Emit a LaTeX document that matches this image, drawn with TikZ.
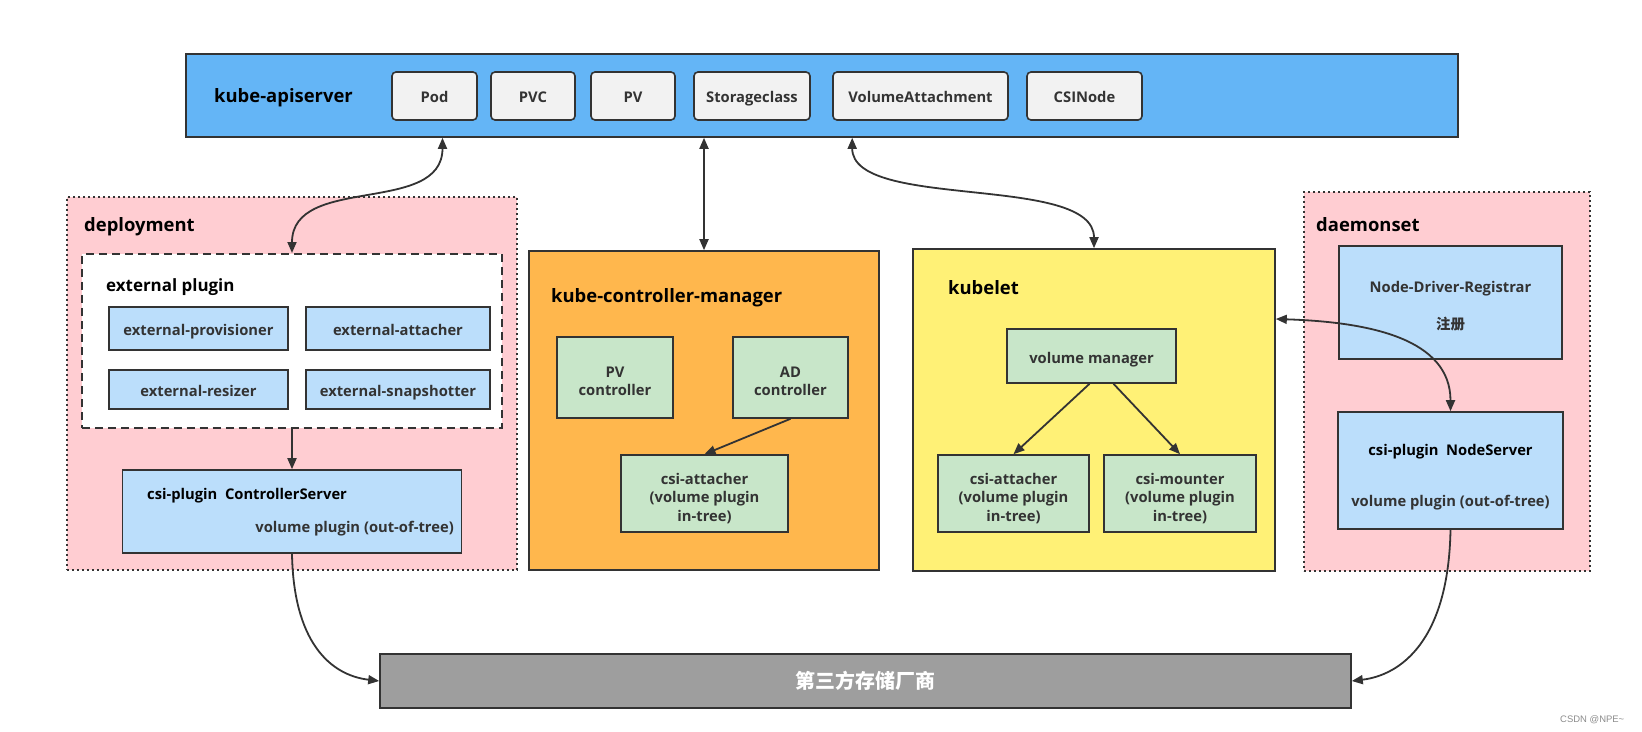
\documentclass[tikz,border=0pt]{standalone}
\usepackage{fontspec}
\setmainfont{Open Sans}
\newfontfamily\cjk{Noto Sans CJK SC}
\newfontfamily\wmfont{Liberation Sans}
\usetikzlibrary{arrows.meta,calc}
\definecolor{apiblue}{HTML}{64B5F6}
\definecolor{resgray}{HTML}{F2F2F2}
\definecolor{pinkbg}{HTML}{FFCDD2}
\definecolor{lblue}{HTML}{BBDEFB}
\definecolor{orangebg}{HTML}{FFB74D}
\definecolor{yellowbg}{HTML}{FFF176}
\definecolor{greenbg}{HTML}{C8E6C9}
\definecolor{vendorgray}{HTML}{9E9E9E}
\definecolor{lc}{HTML}{333333}
\definecolor{txt}{HTML}{333333}
\begin{document}
\begin{tikzpicture}[x=1bp,y=-1bp,
  boxbase/.style={draw=lc, line width=1.6bp, inner sep=0pt, align=center,
    font=\fontsize{14.8}{18.5}\selectfont\bfseries, text=txt},
  oneline/.style={text height=14bp, text depth=0bp},
  sz/.style n args={2}{minimum width=#1bp, minimum height=#2bp},
  resbox/.style={boxbase, oneline, fill=resgray, rounded corners=4bp},
  bluebox/.style={boxbase, oneline, fill=lblue},
  greenbox/.style={boxbase, fill=greenbg},
  groupbox/.style={draw=lc, line width=2bp, dash pattern=on 2bp off 3bp, fill=pinkbg, inner sep=0pt},
  title/.style={anchor=base west, inner sep=0pt, font=\fontsize{18.5}{22}\selectfont\bfseries, text=black},
  plain/.style={inner sep=0pt, align=center, font=\fontsize{14.8}{18.5}\selectfont\bfseries, text=txt},
  conn/.style={draw=lc, line width=1.8bp, -{Triangle[length=11bp,width=9bp]}},
  biconn/.style={draw=lc, line width=1.8bp, {Triangle[length=11bp,width=9bp]}-{Triangle[length=11bp,width=9bp]}}
]
\useasboundingbox (0,0) rectangle (1642,732);

% kube-apiserver
\node[boxbase, fill=apiblue, sz={1272}{83}] (api) at (822,95.5) {};
\node[title] (apilbl) at (214,103) {kube-apiserver};
\node[resbox, sz={85}{48}] (pod) at (434.5,96) {Pod};
\node[resbox, sz={84}{48}] (pvc) at (533,96) {PVC};
\node[resbox, sz={84}{48}] (pv) at (633,96) {PV};
\node[resbox, sz={116}{48}] (sc) at (752,96) {Storageclass};
\node[resbox, sz={175}{48}] (va) at (920.5,96) {VolumeAttachment};
\node[resbox, sz={115}{48}] (csinode) at (1084.5,96) {CSINode};

% deployment
\node[groupbox, sz={450}{373}] (deploy) at (292,383.5) {};
\node[title] (deploylbl) at (84,231) {deployment};
\node[draw=lc, line width=2bp, dash pattern=on 8bp off 5bp, fill=white, inner sep=0pt, sz={419}{174}] (extp) at (292,341) {};
\node[title, font=\fontsize{17}{20}\selectfont\bfseries] (extplbl) at (106,291) {external plugin};
\node[bluebox, sz={179}{43}] (prov) at (198.5,328.5) {external-provisioner};
\node[bluebox, sz={184}{43}] (att) at (398,328.5) {external-attacher};
\node[bluebox, sz={179}{39}] (res) at (198.5,389.5) {external-resizer};
\node[bluebox, sz={184}{39}] (snap) at (398,389.5) {external-snapshotter};
\node[bluebox, sz={339}{83}] (csc) at (292,511.5) {};
\node[plain, anchor=west, text=black] (csct) at (147,496) {csi-plugin\ \ ControllerServer};
\node[plain, anchor=east] (cscv) at (454,529) {volume plugin (out-of-tree)};

% kube-controller-manager
\node[boxbase, fill=orangebg, sz={350}{319}] (kcm) at (704,410.5) {};
\node[title] (kcmlbl) at (551,302) {kube-controller-manager};
\node[greenbox, sz={116}{81}] (pvctl) at (615,377.5) {};
\node[plain] (pvctlt) at ([yshift=-4bp]pvctl.center) {PV\\controller};
\node[greenbox, sz={115}{81}] (adctl) at (790.5,377.5) {};
\node[plain] (adctlt) at ([yshift=-4bp]adctl.center) {AD\\controller};
\node[greenbox, sz={167}{77}] (cat1) at (704.5,493.5) {};
\node[plain] (cat1t) at ([yshift=-5bp]cat1.center) {csi-attacher\\(volume plugin\\in-tree)};

% kubelet
\node[boxbase, fill=yellowbg, sz={362}{322}] (kubelet) at (1094,410) {};
\node[title] (kubeletlbl) at (948,294) {kubelet};
\node[greenbox, oneline, sz={169}{54}] (vm) at (1091.5,356) {volume manager};
\node[greenbox, sz={151}{77}] (cat2) at (1013.5,493.5) {};
\node[plain] (cat2t) at ([yshift=-5bp]cat2.center) {csi-attacher\\(volume plugin\\in-tree)};
\node[greenbox, sz={152}{77}] (cmt) at (1180,493.5) {};
\node[plain] (cmtt) at ([yshift=-5bp]cmt.center) {csi-mounter\\(volume plugin\\in-tree)};

% daemonset
\node[groupbox, sz={286}{379}] (ds) at (1447,381.5) {};
\node[title] (dslbl) at (1316,231) {daemonset};
\node[bluebox, sz={223}{113}] (ndr) at (1450.5,302.5) {};
\node[plain] (ndrt) at (1450.5,289) {Node-Driver-Registrar};
\node[plain, font=\fontsize{14.5}{18}\selectfont\cjk\bfseries] (ndrz) at (1450.5,324) {注册};
\node[bluebox, sz={225}{117}] (ns) at (1450.5,470.5) {};
\node[plain, text=black] (nst) at (1450.5,451.5) {csi-plugin\ \ NodeServer};
\node[plain] (nsv) at (1450.5,502.5) {volume plugin (out-of-tree)};

% vendor
\node[boxbase, fill=vendorgray, sz={971}{54}, text=white,
  font=\fontsize{20}{23}\selectfont\cjk\bfseries] (vendor) at (865.5,681) {第三方存储厂商};

% watermark
\node[inner sep=0pt, anchor=west, text=black!45, font=\wmfont\fontsize{9.5}{11}\selectfont] (wm) at (1560,720) {CSDN @NPE\textasciitilde};

% connectors
\draw[biconn] ([xshift=8bp]pod.south |- api.south) .. controls +(0,78) and +(0,-79) .. (extp.north);
\draw[biconn] (kcm.north |- api.south) -- (kcm.north);
\draw[biconn] ([xshift=20bp]va.west |- api.south) .. controls +(0,73) and +(0,-75) .. (kubelet.north);
\draw[biconn] ([yshift=91bp]kubelet.east) .. controls +(95,3) and +(0,-72) .. (ns.north);
\draw[conn] (extp.south) -- (csc.north);
\draw[conn] (adctl.south) -- (cat1.north);
\draw[conn] ([xshift=-2bp]vm.south) -- (cat2.north);
\draw[conn] ([xshift=22bp]vm.south) -- (cmt.north);
\draw[conn] (csc.south) .. controls +(1.5,87) and +(-50,-6) .. (vendor.west);
\draw[conn] (ns.south) .. controls +(-2,111) and +(49,-6) .. (vendor.east);
\end{tikzpicture}
\end{document}
